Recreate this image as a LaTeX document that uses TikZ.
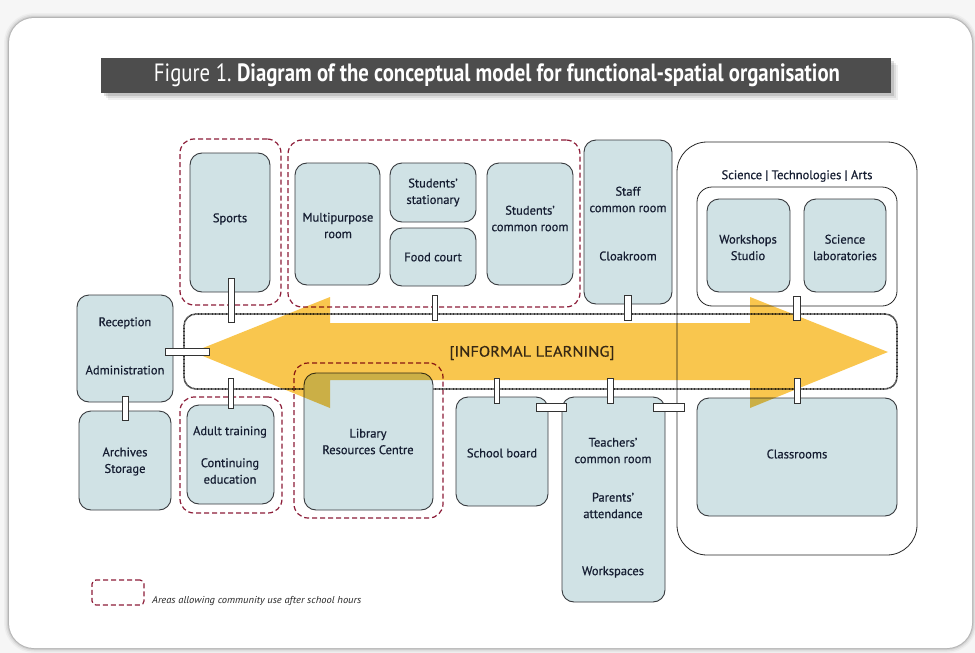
\documentclass[tikz,border=0pt]{standalone}
\usepackage{fontspec}
\usepackage{graphicx}
\setmainfont{PT Sans}
\newfontfamily\lblfont{PT Sans}[FakeBold=0.6]
\usetikzlibrary{fit,calc}
\definecolor{roomfill}{RGB}{208,226,229}
\definecolor{roomline}{RGB}{55,58,62}
\definecolor{commred}{RGB}{140,28,56}
\definecolor{arrowc}{RGB}{249,198,78}
\definecolor{textc}{RGB}{22,30,50}
\definecolor{titlebg}{RGB}{77,77,77}
\definecolor{pagebg}{RGB}{246,246,246}
\tikzset{
  room/.style={draw=roomline, line width=0.9pt, fill=roomfill, rounded corners=12pt, inner sep=0pt},
  community/.style={draw=commred, line width=1.2pt, dash pattern=on 5pt off 3pt, rounded corners=14pt, inner sep=0pt},
  outline/.style={draw=black!85, line width=0.8pt, inner sep=0pt},
  bandbox/.style={draw=black!80, line width=1.6pt, dash pattern=on 0.9pt off 0.5pt, rounded corners=12pt, inner sep=0pt},
  tabbox/.style={draw=black!80, fill=white, line width=0.6pt, inner sep=0pt, minimum size=0pt},
  lbl/.style={font=\lblfont\fontsize{12.5}{16.5}\selectfont, text=textc, align=center, inner sep=0pt},
}
\begin{document}
\begin{tikzpicture}[x=1pt,y=-1pt]
\useasboundingbox (0,0) rectangle (975,653);
% page and panel
\fill[pagebg] (0,0) rectangle (975,653);
\foreach \w/\o in {10/0.03,7/0.05,4/0.08,2/0.12}
  \draw[line width=\w pt, black, opacity=\o, rounded corners=25pt] (9,18) rectangle (972,648);
\fill[white, rounded corners=25pt] (9,18) rectangle (972,648);
% title bar
\foreach \d/\o in {7/0.06,5/0.08,3/0.12}
  \fill[black, opacity=\o] (101+\d,58+\d) rectangle (891+\d,93+\d);
\node[fill=titlebg, inner sep=0pt, fit={(101,58) (891,93)}] (titlebar) {};
\node[text=white, inner sep=0pt] (title) at (497,75.5)
  {\resizebox{686pt}{\height}{\fontsize{25}{25}\selectfont Figure 1.\ \textbf{Diagram of the conceptual model for functional-spatial organisation}}};

% community areas
\node[community, fit={(180,139) (281,305)}] (gsports) {};
\node[community, fit={(288,140) (580,307)}] (gtop) {};
\node[community, fit={(180,397) (282,513)}] (gadult) {};
\node[community, fit={(294,363) (443,518)}] (glib) {};

% outlines
\node[outline, rounded corners=30pt, fit={(677,142) (917,555)}] (big) {};
\node[outline, rounded corners=15pt, fit={(697,187) (897,306)}] (sta) {};
\node[bandbox, fit={(184,314) (897,389)}] (band) {};

% rooms
\node[room, fit={(190,153) (270,292)}] (sports) {};
\node[room, fit={(295,163) (380,285)}] (multi) {};
\node[room, fit={(390,163) (476,222)}] (stat) {};
\node[room, fit={(390,228) (476,286)}] (food) {};
\node[room, fit={(487,163) (573,285)}] (scr) {};
\node[room, fit={(584,140) (672,304)}] (staff) {};
\node[room, fit={(707,199) (790,292)}] (ws) {};
\node[room, fit={(804,199) (886,292)}] (sl) {};
\node[room, fit={(77,295) (173,402)}] (recep) {};
\node[room, fit={(79,411) (171,510)}] (arch) {};
\node[room, fit={(187,405) (274,504)}] (adult) {};
\node[room, fit={(304,373) (433,510)}] (lib) {};
\node[room, fit={(456,397) (548,506)}] (sb) {};
\node[room, fit={(562,397) (665,602)}] (teach) {};
\node[room, fit={(697,398) (897,516)}] (class) {};

% informal learning arrow
\begin{scope}[blend mode=multiply]
\fill[arrowc] (193,352) -- (330,297) -- (330,323) -- (750,323) -- (750,297) -- (888,352)
  -- (750,408) -- (750,380) -- (330,380) -- (330,408) -- cycle;
\end{scope}

% connectors (tabs)
\node[tabbox, fit={(228,278) (234,322)}] (t1) {};
\node[tabbox, fit={(432,295) (437,320)}] (t2) {};
\node[tabbox, fit={(624,295) (631,320)}] (t3) {};
\node[tabbox, fit={(793,296) (800,320)}] (t4) {};
\node[tabbox, fit={(165,348) (209,355)}] (t5) {};
\node[tabbox, fit={(122,396) (128,420)}] (t6) {};
\node[tabbox, fit={(228,378) (233,408)}] (t7) {};
\node[tabbox, fit={(494,378) (499,403)}] (t8) {};
\node[tabbox, fit={(607,378) (613,403)}] (t9) {};
\node[tabbox, fit={(536,403) (566,411)}] (t10) {};
\node[tabbox, fit={(653,403) (684,411)}] (t11) {};
\node[tabbox, fit={(794,378) (800,403)}] (t12) {};

% labels
\node[lbl] (l-sports) at (230,219) {Sports};
\node[lbl] (l-multi) at (338,225.5) {Multipurpose\\room};
\node[lbl] (l-stat) at (433,192.5) {Students’\\stationary};
\node[lbl] (l-food) at (433,257) {Food court};
\node[lbl] (l-scr) at (530,218.5) {Students’\\common room};
\node[lbl] (l-staff) at (628,199.5) {Staff\\common room};
\node[lbl] (l-cloak) at (628,256) {Cloakroom};
\node[lbl] (l-sta) at (797,176) {Science | Technologies | Arts};
\node[lbl] (l-ws) at (748,247.5) {Workshops\\Studio};
\node[lbl] (l-sl) at (845,247.5) {Science\\laboratories};
\node[lbl] (l-recep) at (125,323) {Reception};
\node[lbl] (l-admin) at (125,370) {Administration};
\node[lbl] (l-arch) at (125,461.5) {Archives\\Storage};
\node[lbl] (l-adult) at (230,432) {Adult training};
\node[lbl] (l-cont) at (230,471) {Continuing\\education};
\node[lbl] (l-lib) at (368,441.5) {Library\\Resources Centre};
\node[lbl] (l-sb) at (502,453) {School board};
\node[lbl] (l-teach) at (613,450.5) {Teachers’\\common room};
\node[lbl] (l-par) at (613,505.5) {Parents’\\attendance};
\node[lbl] (l-work) at (613,572) {Workspaces};
\node[lbl] (l-class) at (797,454) {Classrooms};
\node[inner sep=0pt, text={rgb,255:red,55;green,40;blue,20}] (l-inf) at (532,353)
  {\resizebox{165pt}{\height}{\lblfont\fontsize{15}{15}\selectfont [INFORMAL LEARNING]}};

% legend
\node[community, rounded corners=4pt, fit={(92,580) (144,605)}] (legbox) {};
\node[inner sep=0pt, anchor=west, text=black!85] (legtext) at (152,601)
  {\resizebox{209pt}{\height}{\fontsize{10}{10}\selectfont\itshape Areas allowing community use after school hours}};
\end{tikzpicture}
\end{document}
